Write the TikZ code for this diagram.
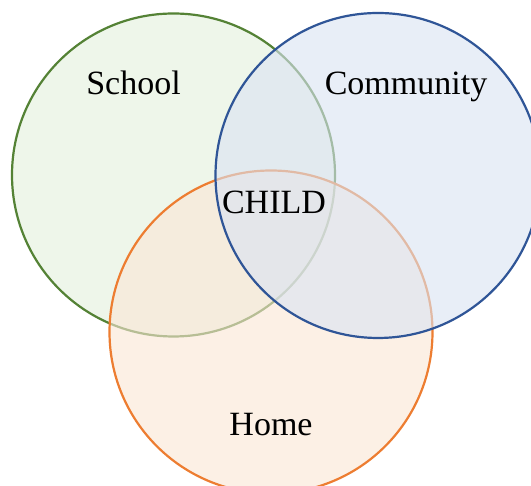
\documentclass[tikz,border=0pt]{standalone}
\usepackage{fontspec}
\setmainfont{Liberation Serif}
\definecolor{schoolline}{RGB}{84,130,53}
\definecolor{schoolfill}{RGB}{228,240,220}
\definecolor{commline}{RGB}{47,85,151}
\definecolor{commfill}{RGB}{218,227,243}
\definecolor{homeline}{RGB}{237,125,49}
\definecolor{homefill}{RGB}{250,230,213}
\begin{document}
\begin{tikzpicture}[x=1pt,y=1pt,
  venn/.style={circle, minimum size=323pt, inner sep=0pt, line width=2.2pt, fill opacity=0.6},
  lbl/.style={font=\fontsize{34}{40}\selectfont, inner sep=0pt, anchor=base}]
\useasboundingbox (0,0) rectangle (531,486);
\fill[white] (0,0) rectangle (531,486);
\node[venn, draw=schoolline, fill=schoolfill] (school) at (173.5,311) {};
\node[venn, draw=homeline, fill=homefill] (home) at (271,154) {};
\node[venn, draw=commline, fill=commfill, minimum size=325pt] (community) at (378,310.5) {};
\node[lbl] (tschool) at (133.5,391) {School};
\node[lbl] (tcomm) at (406,391) {Community};
\node[lbl] (tchild) at (274,272) {CHILD};
\node[lbl] (thome) at (271,50) {Home};
\end{tikzpicture}
\end{document}
